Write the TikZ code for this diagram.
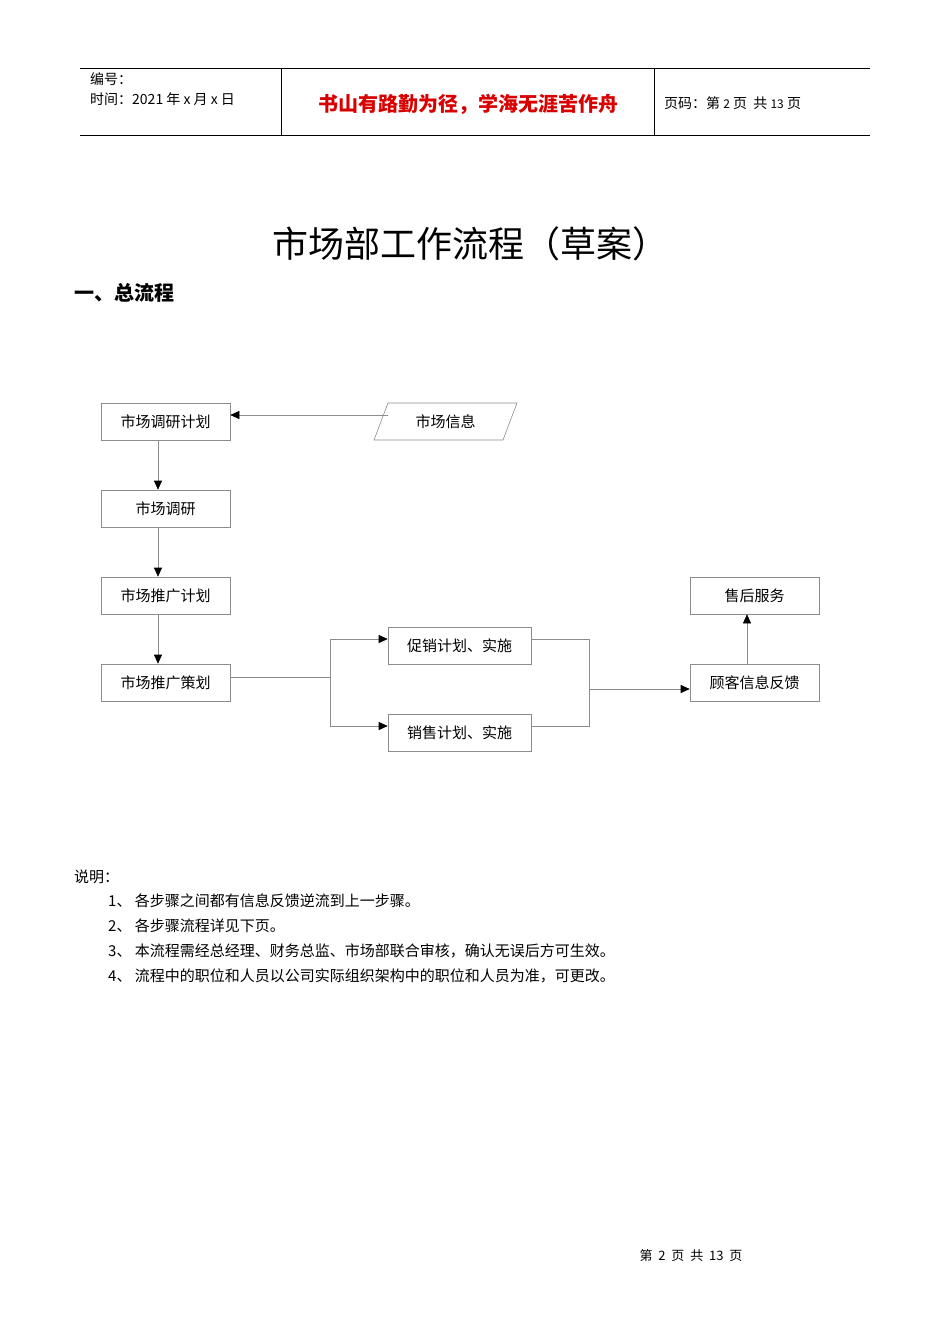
\documentclass[tikz,border=0pt]{standalone}
\usepackage{fontspec}
\setmainfont{Liberation Sans}
\newfontfamily\cjk{Noto Sans CJK SC}
\usetikzlibrary{arrows.meta,shapes.geometric}
\begin{document}
\begin{tikzpicture}[x=1pt,y=-1pt,
  box/.style={draw=black!45,line width=0.6pt,minimum width=129pt,minimum height=37pt,inner sep=0pt,font=\cjk\fontsize{15}{15}\selectfont},
  wbox/.style={box,minimum width=143pt},
  conn/.style={draw=black!45,line width=0.6pt},
  arr/.style={conn,-{Triangle[length=9pt,width=8pt,fill=black,color=black]}},
  txt/.style={inner sep=0pt,anchor=west}]
\useasboundingbox[fill=white] (0,0) rectangle (950,1344);
% header
\draw[line width=0.6pt] (80,68) -- (870,68) (80,135) -- (870,135) (281,68) -- (281,135) (654,68) -- (654,135);
\node[txt,font=\cjk\fontsize{14}{14}\selectfont] (h1) at (90,79) {编号：};
\node[txt,font=\cjk\fontsize{14}{14}\selectfont] (h2) at (90,99) {时间：2021 年 x 月 x 日};
\node[inner sep=0pt,font=\cjk\bfseries\fontsize{20}{20}\selectfont,text=red!85!black] (h3) at (468,104) {书山有路勤为径，学海无涯苦作舟};
\node[txt,font=\cjk\fontsize{14}{14}\selectfont] (h4) at (664,103) {页码：第 {\fontsize{12}{12}\selectfont 2} 页\ \ 共 {\fontsize{12}{12}\selectfont 13} 页};
% title
\node[inner sep=0pt,font=\cjk\fontsize{36}{36}\selectfont] (title) at (470,244) {市场部工作流程（草案）};
\node[txt,font=\cjk\bfseries\fontsize{20}{20}\selectfont] (sec) at (74,293) {一、总流程};
% boxes
\node[box] (A) at (165.5,421.5) {市场调研计划};
\node[box] (B) at (165.5,508.5) {市场调研};
\node[box] (C) at (165.5,595.5) {市场推广计划};
\node[box] (D) at (165.5,682.5) {市场推广策划};
\node[minimum width=115pt,minimum height=37pt,inner sep=0pt,font=\cjk\fontsize{15}{15}\selectfont] (M) at (445.5,421.5) {市场信息};
\draw[conn] (374,440) -- (388,403) -- (517,403) -- (503,440) -- cycle;
\node[wbox] (E) at (459.5,645.5) {促销计划、实施};
\node[wbox] (F) at (459.5,732.5) {销售计划、实施};
\node[box] (G) at (754.5,595.5) {售后服务};
\node[box] (H) at (754.5,682.5) {顾客信息反馈};
% connectors
\draw[arr] (M.west |- 0,415) -- (A.east |- 0,415);
\draw[arr] (A.south -| 158,0) -- (B.north -| 158,0);
\draw[arr] (B.south -| 158,0) -- (C.north -| 158,0);
\draw[arr] (C.south -| 158,0) -- (D.north -| 158,0);
\coordinate (s1) at (330,677);
\coordinate (s2) at (589,689);
\draw[conn] (D.east |- s1) -- (s1);
\draw[arr] (s1) |- (E.west |- 0,639);
\draw[arr] (s1) |- (F.west |- 0,726);
\draw[conn] (E.east |- 0,639) -| (s2);
\draw[conn] (F.east |- 0,726) -| (s2);
\draw[arr] (s2) -- (H.west |- s2);
\draw[arr] (H.north -| 747,0) -- (G.south -| 747,0);
% notes
\node[txt,font=\cjk\fontsize{15}{15}\selectfont] (n0) at (74,877) {说明：};
\node[txt,font=\cjk\fontsize{15}{15}\selectfont] (n1) at (108,901) {1、 各步骤之间都有信息反馈逆流到上一步骤。};
\node[txt,font=\cjk\fontsize{15}{15}\selectfont] (n2) at (108,926) {2、 各步骤流程详见下页。};
\node[txt,font=\cjk\fontsize{15}{15}\selectfont] (n3) at (108,951) {3、 本流程需经总经理、财务总监、市场部联合审核，确认无误后方可生效。};
\node[txt,font=\cjk\fontsize{15}{15}\selectfont] (n4) at (108,976) {4、 流程中的职位和人员以公司实际组织架构中的职位和人员为准，可更改。};
\node[inner sep=0pt,font=\cjk\fontsize{13}{13}\selectfont] (foot) at (691,1256) {第\ \ 2\ \ 页\ \ 共\ \ 13\ \ 页};
\end{tikzpicture}
\end{document}
